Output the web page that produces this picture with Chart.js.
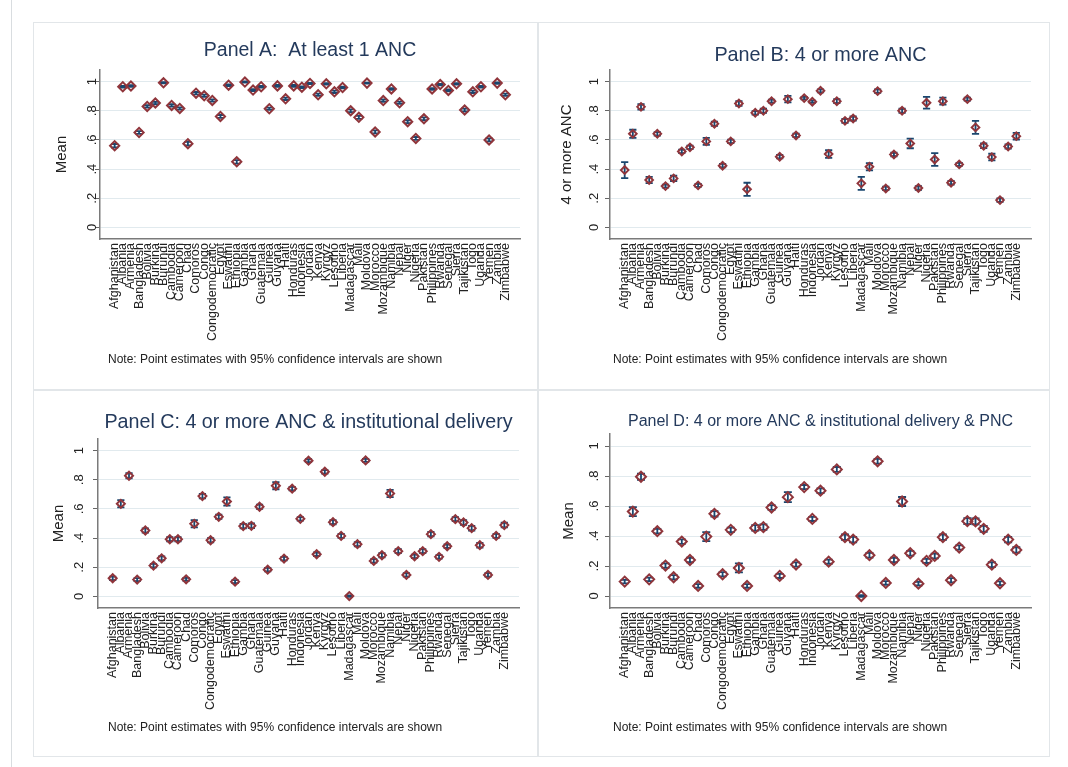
<!DOCTYPE html>
<html>
<head>
<meta charset="utf-8">
<title>ANC coverage by country</title>
<script src="https://cdn.jsdelivr.net/npm/chart.js@4.4.0/dist/chart.umd.min.js"></script>
<style>
    body { margin: 0; background: #fff; width: 1068px; height: 767px; position: relative; overflow: hidden; }
    .frame { position: absolute; left: 11px; top: 0; width: 1px; height: 767px; background: #d9dde0; }
    .panel { position: absolute; border: 1px solid #e2e6e9; box-sizing: border-box; background: #fff; }
    .panel canvas { position: absolute; left: -1px; top: -1px; }
</style>
</head>
<body>
<div class="frame"></div>
<div class="panel" style="left:33px;top:22px;width:505px;height:368px"><canvas id="panelA" width="505" height="368"></canvas></div>
<div class="panel" style="left:538px;top:22px;width:512px;height:368px"><canvas id="panelB" width="512" height="368"></canvas></div>
<div class="panel" style="left:33px;top:390px;width:505px;height:367px"><canvas id="panelC" width="505" height="367"></canvas></div>
<div class="panel" style="left:538px;top:390px;width:512px;height:367px"><canvas id="panelD" width="512" height="367"></canvas></div>

<script>
// Countries on the x axis (same order in every panel)
const countries = ['Afghanistan', 'Albania', 'Armenia', 'Bangladesh', 'Bolivia', 'Burkina', 'Burundi',
    'Cambodia', 'Cameroon', 'Chad', 'Comoros', 'Congo', 'Congodemocratic', 'Egypt', 'Eswatini', 'Ethiopia',
    'Gambia', 'Ghana', 'Guatemala', 'Guinea', 'Guyana', 'Haiti', 'Honduras', 'Indonesia', 'Jordan', 'Kenya',
    'Kyrgyz', 'Lesotho', 'Liberia', 'Madagascar', 'Mali', 'Moldova', 'Morocco', 'Mozambique', 'Namibia',
    'Nepal', 'Niger', 'Nigeria', 'Pakistan', 'Philippines', 'Rwanda', 'Senegal', 'Sierra', 'Tajikistan',
    'Togo', 'Uganda', 'Yemen', 'Zambia', 'Zimbabwe'];

// y axis ticks, Stata style labels
const yTicks = [0, 0.2, 0.4, 0.6, 0.8, 1];
const yTickLabels = ['0', '.2', '.4', '.6', '.8', '1'];

// Panel A: at least 1 ANC (mean and CI half width)
const meanA = [0.56, 0.965, 0.97, 0.651, 0.83, 0.853, 0.992, 0.837, 0.816, 0.574, 0.921, 0.903, 0.871, 0.761,
    0.976, 0.45, 0.997, 0.942, 0.965, 0.814, 0.971, 0.882, 0.971, 0.962, 0.988, 0.91, 0.985, 0.93, 0.96,
    0.80, 0.755, 0.99, 0.655, 0.87, 0.95, 0.855, 0.725, 0.61, 0.745, 0.95, 0.98, 0.94, 0.985, 0.805, 0.93,
    0.965, 0.60, 0.99, 0.91];
const ciA = [0.012, 0.006, 0.006, 0.01, 0.008, 0.008, 0.004, 0.008, 0.008, 0.012, 0.008, 0.008, 0.008, 0.01,
    0.006, 0.012, 0.004, 0.006, 0.006, 0.008, 0.006, 0.008, 0.006, 0.006, 0.004, 0.008, 0.005, 0.008, 0.006,
    0.01, 0.01, 0.004, 0.01, 0.008, 0.006, 0.008, 0.01, 0.01, 0.01, 0.006, 0.005, 0.006, 0.005, 0.01, 0.008,
    0.006, 0.01, 0.005, 0.008];

// Panel B: 4 or more ANC
const meanB = [0.393, 0.642, 0.827, 0.325, 0.642, 0.283, 0.336, 0.521, 0.549, 0.288, 0.59, 0.711, 0.423,
    0.59, 0.85, 0.261, 0.786, 0.80, 0.866, 0.485, 0.88, 0.631, 0.887, 0.862, 0.937, 0.503, 0.866, 0.731,
    0.747, 0.302, 0.416, 0.935, 0.267, 0.50, 0.80, 0.576, 0.27, 0.855, 0.466, 0.866, 0.306, 0.432, 0.88,
    0.686, 0.56, 0.482, 0.187, 0.555, 0.626];
const ciB = [0.055, 0.028, 0.018, 0.022, 0.012, 0.01, 0.018, 0.012, 0.012, 0.01, 0.024, 0.015, 0.012, 0.012,
    0.016, 0.045, 0.012, 0.014, 0.01, 0.012, 0.022, 0.012, 0.008, 0.008, 0.01, 0.026, 0.014, 0.014, 0.014,
    0.045, 0.025, 0.012, 0.012, 0.012, 0.014, 0.033, 0.012, 0.04, 0.044, 0.024, 0.012, 0.01, 0.01, 0.045,
    0.016, 0.023, 0.012, 0.014, 0.023];

// Panel C: 4 or more ANC & institutional delivery
const meanC = [0.124, 0.635, 0.828, 0.115, 0.452, 0.211, 0.261, 0.392, 0.392, 0.117, 0.498, 0.688, 0.385,
    0.546, 0.651, 0.101, 0.482, 0.484, 0.615, 0.183, 0.759, 0.259, 0.739, 0.532, 0.931, 0.289, 0.855, 0.509,
    0.415, 0.002, 0.358, 0.933, 0.243, 0.282, 0.706, 0.31, 0.147, 0.275, 0.31, 0.427, 0.271, 0.344, 0.53,
    0.507, 0.468, 0.351, 0.147, 0.415, 0.489];
const ciC = [0.012, 0.025, 0.018, 0.01, 0.014, 0.012, 0.014, 0.014, 0.014, 0.01, 0.025, 0.016, 0.014, 0.014,
    0.028, 0.01, 0.016, 0.016, 0.014, 0.012, 0.024, 0.012, 0.012, 0.012, 0.01, 0.012, 0.012, 0.014, 0.014,
    0.005, 0.014, 0.01, 0.012, 0.014, 0.025, 0.014, 0.012, 0.012, 0.014, 0.016, 0.012, 0.012, 0.014, 0.016,
    0.016, 0.016, 0.012, 0.014, 0.016];

// Panel D: 4 or more ANC & institutional delivery & PNC
const meanD = [0.096, 0.563, 0.795, 0.111, 0.432, 0.203, 0.125, 0.363, 0.24, 0.067, 0.396, 0.548, 0.145,
    0.441, 0.187, 0.067, 0.454, 0.459, 0.59, 0.134, 0.659, 0.21, 0.726, 0.514, 0.702, 0.229, 0.844, 0.392,
    0.376, 0.0, 0.272, 0.898, 0.087, 0.24, 0.63, 0.285, 0.082, 0.234, 0.267, 0.392, 0.105, 0.323, 0.499,
    0.497, 0.448, 0.209, 0.085, 0.376, 0.307];
const ciD = [0.012, 0.03, 0.02, 0.012, 0.015, 0.015, 0.014, 0.015, 0.015, 0.012, 0.03, 0.018, 0.014, 0.015,
    0.03, 0.012, 0.018, 0.018, 0.016, 0.014, 0.033, 0.014, 0.014, 0.014, 0.016, 0.014, 0.016, 0.018, 0.018,
    0.006, 0.016, 0.016, 0.012, 0.015, 0.03, 0.016, 0.012, 0.014, 0.016, 0.018, 0.014, 0.014, 0.02, 0.02,
    0.02, 0.016, 0.012, 0.018, 0.018];

const noteText = 'Note: Point estimates with 95% confidence intervals are shown';

const FONT = "'Liberation Sans', Arial, Helvetica, sans-serif";
const NAVY = '#1a476f';
const MAROON = '#90353b';
const TITLE_COLOR = '#243a5c';

Chart.defaults.font.family = FONT;
Chart.defaults.color = '#222';

// Draws the capped confidence interval behind each marker
const ciBars = {
    id: 'ciBars',
    beforeDatasetsDraw(chart, args, opts) {
        const {ctx, scales: {x, y}} = chart;
        const means = chart.data.datasets[0].data;
        ctx.save();
        ctx.strokeStyle = NAVY;
        ctx.lineWidth = opts.width;
        means.forEach((pt, i) => {
            const px = x.getPixelForValue(pt.x);
            const top = y.getPixelForValue(pt.y + opts.margins[i]);
            const bot = y.getPixelForValue(pt.y - opts.margins[i]);
            ctx.beginPath();
            ctx.moveTo(px, top);
            ctx.lineTo(px, bot);
            ctx.moveTo(px - opts.cap, top);
            ctx.lineTo(px + opts.cap, top);
            ctx.moveTo(px - opts.cap, bot);
            ctx.lineTo(px + opts.cap, bot);
            ctx.stroke();
        });
        ctx.restore();
    }
};

// Footnote under the country labels
const footNote = {
    id: 'footNote',
    afterDraw(chart, args, opts) {
        const ctx = chart.ctx;
        ctx.save();
        ctx.font = '12px ' + FONT;
        ctx.fillStyle = '#222';
        ctx.textBaseline = 'middle';
        ctx.fillText(noteText, opts.x, opts.y);
        ctx.restore();
    }
};

function makePanel(id, titleText, titleSize, titleY, yTitle, yTitleX, means, margins, geo) {
    const canvas = document.getElementById(id);
    const W = canvas.width, H = canvas.height;
    const titleLine = titleSize * 1.2;

    return new Chart(canvas.getContext('2d'), {
        type: 'scatter',
        data: {
            datasets: [{
                data: means.map((v, i) => ({x: i, y: v})),
                pointStyle: 'rectRot',
                pointRadius: geo.marker,
                pointBorderWidth: 2,
                pointBorderColor: MAROON,
                pointBackgroundColor: 'rgba(255,255,255,0)'
            }]
        },
        plugins: [ciBars, footNote],
        options: {
            responsive: false,
            animation: false,
            events: [],
            layout: { padding: { left: 0, right: W - geo.right, top: 0, bottom: 0 } },
            plugins: {
                legend: { display: false },
                tooltip: { enabled: false },
                title: {
                    display: true,
                    fullSize: false,
                    text: titleText,
                    color: TITLE_COLOR,
                    font: { size: titleSize, weight: 'normal' },
                    padding: { top: titleY - titleLine / 2, bottom: geo.top - titleY - titleLine / 2 }
                },
                ciBars: { margins: margins, cap: geo.cap, width: 1.8 },
                footNote: { x: geo.noteX, y: geo.noteY }
            },
            scales: {
                x: {
                    type: 'linear',
                    min: -1.8,
                    max: 49.8,
                    afterBuildTicks: s => { s.ticks = countries.map((c, i) => ({value: i})); },
                    afterFit: s => { s.height = H - geo.bottom; },
                    ticks: {
                        autoSkip: false,
                        minRotation: 90,
                        maxRotation: 90,
                        padding: 4,
                        color: '#222',
                        font: { size: 12.5 },
                        callback: v => countries[v]
                    },
                    grid: { display: false, drawTicks: false },
                    border: { display: true, color: '#7a7a7a', width: 1.5 }
                },
                y: {
                    min: -0.08,
                    max: 1.08,
                    afterBuildTicks: s => { s.ticks = yTicks.map(v => ({value: v})); },
                    afterFit: s => { s.width = geo.left; },
                    ticks: {
                        minRotation: 90,
                        maxRotation: 90,
                        crossAlign: 'center',
                        padding: geo.tickGap - 5 - 5.4,
                        color: '#222',
                        font: { size: 13 },
                        callback: v => yTickLabels[yTicks.indexOf(v)]
                    },
                    title: {
                        display: true,
                        text: yTitle,
                        color: '#222',
                        font: { size: 15 },
                        padding: { top: yTitleX - 9, bottom: 0 }
                    },
                    grid: { color: '#e1eaee', lineWidth: 1, tickLength: 5, tickColor: '#666' },
                    border: { display: true, color: '#7a7a7a', width: 1.5 }
                }
            }
        }
    });
}

document.addEventListener('DOMContentLoaded', function() {
    makePanel('panelA', 'Panel A:  At least 1 ANC', 19.5, 29, 'Mean', 29, meanA, ciA,
        { left: 67, right: 487, top: 48, bottom: 217, marker: 4.6, cap: 3.6, tickGap: 8, noteX: 75, noteY: 338 });
    makePanel('panelB', 'Panel B: 4 or more ANC', 19.8, 34, '4 or more ANC', 29, meanB, ciB,
        { left: 72, right: 493, top: 48, bottom: 217, marker: 3.8, cap: 3.6, tickGap: 16, noteX: 75, noteY: 338 });
    makePanel('panelC', 'Panel C: 4 or more ANC & institutional delivery', 19.7, 33, 'Mean', 26, meanC, ciC,
        { left: 65, right: 486, top: 49, bottom: 218, marker: 4, cap: 3.6, tickGap: 19, noteX: 75, noteY: 338 });
    makePanel('panelD', 'Panel D: 4 or more ANC & institutional delivery & PNC', 16, 32, 'Mean', 31, meanD, ciD,
        { left: 72, right: 493, top: 44, bottom: 218, marker: 5, cap: 4, tickGap: 16, noteX: 75, noteY: 338 });
});
</script>
</body>
</html>
